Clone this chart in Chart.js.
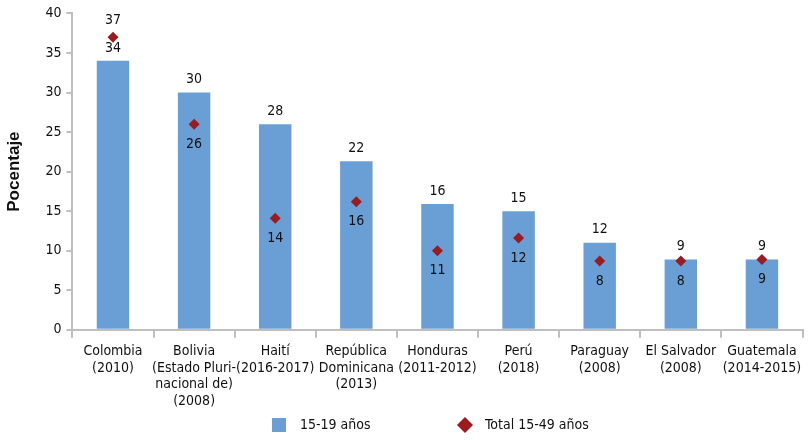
<!DOCTYPE html>
<html>
<head>
<meta charset="utf-8">
<script src="https://cdn.jsdelivr.net/npm/chart.js@4"></script>
<style>
  body { margin: 0; background: #fff; }
  #wrap { width: 808px; height: 440px; }
</style>
</head>
<body>
<div id="wrap"><canvas id="myChart" width="808" height="440"></canvas></div>
<script>
// Chart data
let categories = [
  ["Colombia", "(2010)"],
  ["Bolivia", "(Estado Pluri-", "nacional de)", "(2008)"],
  ["Haití", "(2016-2017)"],
  ["República", "Dominicana", "(2013)"],
  ["Honduras", "(2011-2012)"],
  ["Perú", "(2018)"],
  ["Paraguay", "(2008)"],
  ["El Salvador", "(2008)"],
  ["Guatemala", "(2014-2015)"],
];
let teens = [34, 30, 26, 21.3, 15.9, 15, 11, 8.9, 8.9];
let total = [37, 26, 14.1, 16.2, 10, 11.6, 8.7, 8.7, 8.9];
let teenLabels = ["34", "30", "28", "22", "16", "15", "12", "9", "9"];
let totalLabels = ["37", "26", "14", "16", "11", "12", "8", "8", "9"];

const FONT = "'DejaVu Sans Condensed', sans-serif";
const BLUE = "#6a9fd5";
const RED = "#9b1b1f";

// Draw the value labels and the legend
const extras = {
  id: "extras",
  afterDatasetsDraw(chart) {
    let ctx = chart.ctx;
    ctx.save();
    ctx.font = "14px " + FONT;
    ctx.fillStyle = "#111";
    ctx.textAlign = "center";
    chart.getDatasetMeta(0).data.forEach((bar, i) => {
      ctx.textBaseline = "middle";
      ctx.fillText(teenLabels[i], bar.x, bar.y - 13);
    });
    chart.getDatasetMeta(1).data.forEach((pt, i) => {
      ctx.textBaseline = "middle";
      if (i === 0) {
        ctx.fillText(totalLabels[i], pt.x, pt.y - 17);
      } else {
        ctx.fillText(totalLabels[i], pt.x, pt.y + 20);
      }
    });

    // legend
    let cx = chart.width / 2;
    let ly = chart.height - 15;
    ctx.textAlign = "left";
    ctx.textBaseline = "middle";
    ctx.fillStyle = BLUE;
    ctx.fillRect(cx - 132, ly - 7, 14, 14);
    ctx.fillStyle = "#111";
    ctx.fillText(chart.data.datasets[0].label, cx - 104, ly);
    ctx.fillStyle = RED;
    ctx.beginPath();
    ctx.moveTo(cx + 61, ly - 8);
    ctx.lineTo(cx + 69, ly);
    ctx.lineTo(cx + 61, ly + 8);
    ctx.lineTo(cx + 53, ly);
    ctx.closePath();
    ctx.fill();
    ctx.fillStyle = "#111";
    ctx.fillText(chart.data.datasets[1].label, cx + 81, ly);
    ctx.restore();
  },
};

let ctx = document.getElementById("myChart").getContext("2d");

let myChart = new Chart(ctx, {
  type: "bar",
  data: {
    labels: categories,
    datasets: [
      {
        label: "15-19 años",
        data: teens,
        backgroundColor: BLUE,
        barPercentage: 0.4,
        categoryPercentage: 1,
        order: 2,
      },
      {
        type: "line",
        label: "Total 15-49 años",
        data: total,
        showLine: false,
        pointStyle: "rectRot",
        pointRadius: 5.5,
        pointHoverRadius: 5.5,
        backgroundColor: RED,
        borderColor: RED,
        borderWidth: 0,
        order: 1,
      },
    ],
  },
  options: {
    responsive: false,
    animation: false,
    layout: { padding: { left: 4, right: 2, top: 0, bottom: 25 } },
    plugins: {
      legend: { display: false },
      tooltip: { enabled: false },
    },
    scales: {
      x: {
        grid: {
          offset: true,
          drawOnChartArea: false,
          tickLength: 8,
          color: "#bfbfbf",
          lineWidth: 2,
        },
        border: { color: "#bfbfbf", width: 2 },
        ticks: {
          color: "#111",
          font: { family: FONT, size: 14, lineHeight: 1.2 },
          maxRotation: 0,
          autoSkip: false,
          padding: 5,
        },
      },
      y: {
        min: 0,
        max: 40,
        grid: {
          drawOnChartArea: false,
          tickLength: 6,
          color: "#bfbfbf",
          lineWidth: 2,
        },
        border: { color: "#bfbfbf", width: 2 },
        ticks: {
          stepSize: 5,
          color: "#111",
          font: { family: FONT, size: 14 },
          padding: 5,
        },
        title: {
          display: true,
          text: "Pocentaje",
          color: "#111",
          font: { family: "'Liberation Sans', sans-serif", size: 17, weight: "bold" },
          padding: { top: 0, bottom: 16 },
        },
      },
    },
  },
  plugins: [extras],
});
</script>
</body>
</html>
